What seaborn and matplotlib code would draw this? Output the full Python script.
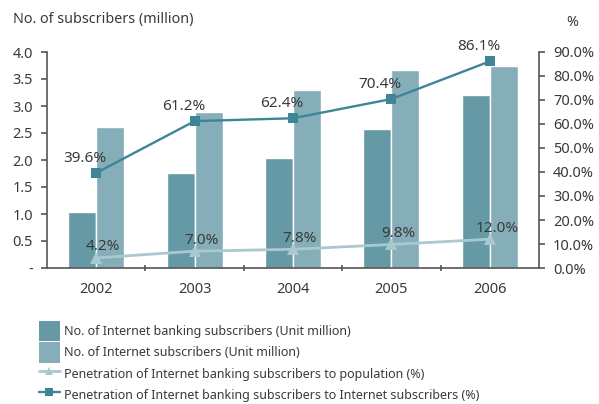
import matplotlib
matplotlib.use("Agg")
import matplotlib.pyplot as plt
import seaborn as sns
import pandas as pd
import numpy as np
from matplotlib.patches import Patch
from matplotlib.lines import Line2D

years = ["2002", "2003", "2004", "2005", "2006"]
banking_subs = [1.03, 1.76, 2.04, 2.58, 3.21]
internet_subs = [2.62, 2.88, 3.29, 3.67, 3.75]
pen_population = [4.2, 7.0, 7.8, 9.8, 12.0]
pen_internet = [39.6, 61.2, 62.4, 70.4, 86.1]
left_ticks = [0, 0.5, 1.0, 1.5, 2.0, 2.5, 3.0, 3.5, 4.0]
left_ticklabels = ["-", "0.5", "1.0", "1.5", "2.0", "2.5", "3.0", "3.5", "4.0"]
right_ticks = [0, 10, 20, 30, 40, 50, 60, 70, 80, 90]

lab_bank = "No. of Internet banking subscribers (Unit million)"
lab_inet = "No. of Internet subscribers (Unit million)"
lab_pop = "Penetration of Internet banking subscribers to population (%)"
lab_pin = "Penetration of Internet banking subscribers to Internet subscribers (%)"

c_bank = "#6499a5"
c_inet = "#86aeb9"
c_dark = "#3e8596"
c_light = "#a9c9cf"
txt = "#3a3a3a"
spc = "#555555"

sns.set_theme(style="white")
plt.rcParams["font.family"] = ["Noto Sans", "DejaVu Sans"]
plt.rcParams["text.color"] = txt

fig = plt.figure(figsize=(5.99, 4.04), dpi=100)
ax = fig.add_axes([47/599, 1-268/404, (539-47)/599, (268-52)/404])

df = pd.DataFrame({
    "year": years * 2,
    "value": banking_subs + internet_subs,
    "series": [lab_bank] * 5 + [lab_inet] * 5,
})
sns.barplot(data=df, x="year", y="value", hue="series", order=years,
            hue_order=[lab_bank, lab_inet], palette=[c_bank, c_inet],
            width=0.57, saturation=1, ax=ax, legend=False)
ax.set_xlim(-0.5, 4.5)
ax.set_ylim(0, 4.0)
ax.set_yticks(left_ticks)
ax.set_yticklabels(left_ticklabels)
ax.set_xlabel("")
ax.set_ylabel("")
for s in ["top", "right"]:
    ax.spines[s].set_visible(False)
for s in ["left", "bottom"]:
    ax.spines[s].set_color(spc)
    ax.spines[s].set_linewidth(1.2)
ax.tick_params(axis="y", left=True, length=4, width=1.2, color=spc,
               labelsize=10.5, labelcolor=txt, pad=6)
ax.tick_params(axis="x", bottom=False, labelsize=10.5, labelcolor=txt, pad=4)
ax.set_xticks([0.5, 1.5, 2.5, 3.5], minor=True)
ax.tick_params(axis="x", which="minor", bottom=True, length=4, width=1.2,
               color=spc, direction="inout")

ax2 = ax.twinx()
xpos = np.arange(len(years))
sns.lineplot(x=xpos, y=pen_population, ax=ax2, color=c_light, lw=2,
             marker="^", markersize=8, markeredgewidth=0, legend=False)
sns.lineplot(x=xpos, y=pen_internet, ax=ax2, color=c_dark, lw=1.7,
             marker="s", markersize=7, markeredgewidth=0, legend=False)
ax2.set_ylim(0, 90)
ax2.set_yticks(right_ticks)
ax2.set_yticklabels([f"{t:.1f}%" for t in right_ticks])
ax2.set_xlim(-0.5, 4.5)
for s in ["top", "left", "bottom"]:
    ax2.spines[s].set_visible(False)
ax2.spines["right"].set_color(spc)
ax2.spines["right"].set_linewidth(1.2)
ax2.tick_params(axis="y", right=True, length=4, width=1.2, color=spc,
                labelsize=10.5, labelcolor=txt, pad=6)
ax2.grid(False)
ax.grid(False)

for x, v in zip(xpos, pen_population):
    ax2.annotate(f"{v:.1f}%", (x, v), xytext=(5, 8), textcoords="offset points",
                 ha="center", va="center", fontsize=11, color=txt)
for x, v in zip(xpos, pen_internet):
    ax2.annotate(f"{v:.1f}%", (x, v), xytext=(-8, 10.5), textcoords="offset points",
                 ha="center", va="center", fontsize=11, color=txt)

fig.text(13/599, 1-20/404, "No. of subscribers (million)", fontsize=10.3,
         ha="left", va="center", color=txt)
fig.text(572/599, 1-22/404, "%", fontsize=10.3, ha="center", va="center", color=txt)

handles = [
    Patch(facecolor=c_bank, edgecolor="none"),
    Patch(facecolor=c_inet, edgecolor="none"),
    Line2D([], [], color=c_light, lw=2, marker="^", markersize=6, markeredgewidth=0),
    Line2D([], [], color=c_dark, lw=1.7, marker="s", markersize=6, markeredgewidth=0),
]
fig.legend(handles, [lab_bank, lab_inet, lab_pop, lab_pin],
           loc="upper left", bbox_to_anchor=(39/599, 1-321/404), frameon=False,
           fontsize=9.0, labelcolor=txt, handlelength=1.65, handleheight=2.1,
           labelspacing=0.1, handletextpad=0.35, borderpad=0, borderaxespad=0)

fig.savefig("out.png", dpi=100)
